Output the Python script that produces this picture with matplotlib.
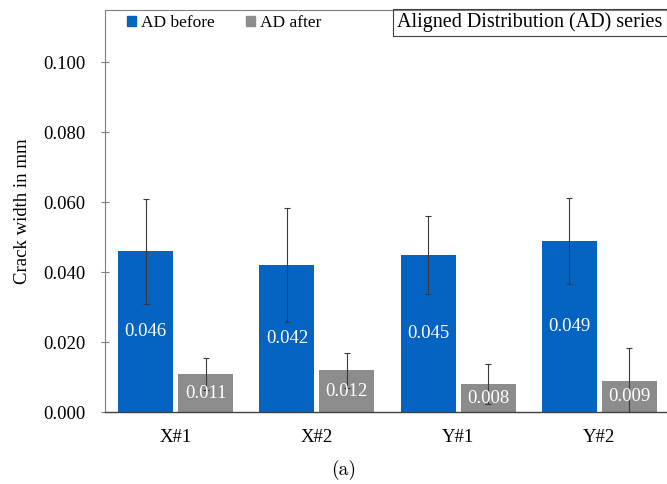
import matplotlib
matplotlib.use("Agg")
import matplotlib.pyplot as plt
import numpy as np
from matplotlib.patches import Patch, Rectangle

categories = ["X#1", "X#2", "Y#1", "Y#2"]
ad_before = [0.046, 0.042, 0.045, 0.049]
ad_after = [0.011, 0.012, 0.008, 0.009]
err_before = [0.0149, 0.0163, 0.0112, 0.0122]
err_after = [0.0045, 0.0050, 0.0057, 0.0094]
yticks = [0.000, 0.020, 0.040, 0.060, 0.080, 0.100]

blue = "#0563C1"
gray = "#8C8C8C"
serif = ["Liberation Serif", "DejaVu Serif"]
plt.rcParams["font.family"] = serif

fig = plt.figure(figsize=(6.67, 4.84), dpi=100)
ax = fig.add_axes([105 / 667, (484 - 412.3) / 484, 565 / 667, 402.3 / 484])

x = np.arange(len(categories))
w = 0.389
off = 0.212
eb = dict(ecolor="#3a3a3a", elinewidth=0.8, capsize=2.5, capthick=0.8)
b1 = ax.bar(x - off, ad_before, w, color=blue, yerr=err_before, error_kw=eb, zorder=2)
b2 = ax.bar(x + off, ad_after, w, color=gray, yerr=err_after, error_kw=eb, zorder=2)
ax.bar_label(b1, labels=[f"{v:.3f}" for v in ad_before], label_type="center",
             color="white", fontsize=13.5)
ax.bar_label(b2, labels=[f"{v:.3f}" for v in ad_after], label_type="center",
             color="white", fontsize=13.5)

ax.set_xlim(-0.5, 3.5)
ax.set_ylim(0, 0.115)
ax.set_yticks(yticks)
ax.set_yticklabels([f"{t:.3f}" for t in yticks])
ax.set_xticks(x)
ax.set_xticklabels(categories)
ax.tick_params(axis="y", direction="inout", length=6, width=0.8, color="#7f7f7f",
               labelsize=13.5, pad=11)
ax.tick_params(axis="x", length=0, labelsize=13.5, pad=12)
ax.set_ylabel("Crack width in mm", fontsize=13.5, labelpad=9)

for side in ["left", "top"]:
    ax.spines[side].set_color("#7f7f7f")
    ax.spines[side].set_linewidth(0.8)
ax.spines["bottom"].set_color("#404040")
ax.spines["bottom"].set_linewidth(1.0)
ax.spines["right"].set_visible(False)

handles = [Patch(color=blue, label="AD before"), Patch(color=gray, label="AD after")]
fig.legend(handles=handles, loc="center left", bbox_to_anchor=(120 / 667, 1 - 23 / 484),
           ncol=2, frameon=False, fontsize=12.5, handlelength=0.5, handleheight=0.5,
           handletextpad=0.3, columnspacing=1.8, borderaxespad=0)

fig.add_artist(Rectangle((393 / 667, 1 - 36 / 484), 274 / 667, 27 / 484,
                         transform=fig.transFigure, fill=False,
                         edgecolor="#404040", linewidth=0.8))
fig.text(397 / 667, 1 - 22.5 / 484, "Aligned Distribution (AD) series",
         fontsize=14.5, va="center", ha="left")

fig.text(344 / 667, 1 - 470 / 484, "(a)", fontsize=14, ha="center", va="center",
         family=["cmr10", "DejaVu Serif"])

fig.savefig("out.png", dpi=100)
